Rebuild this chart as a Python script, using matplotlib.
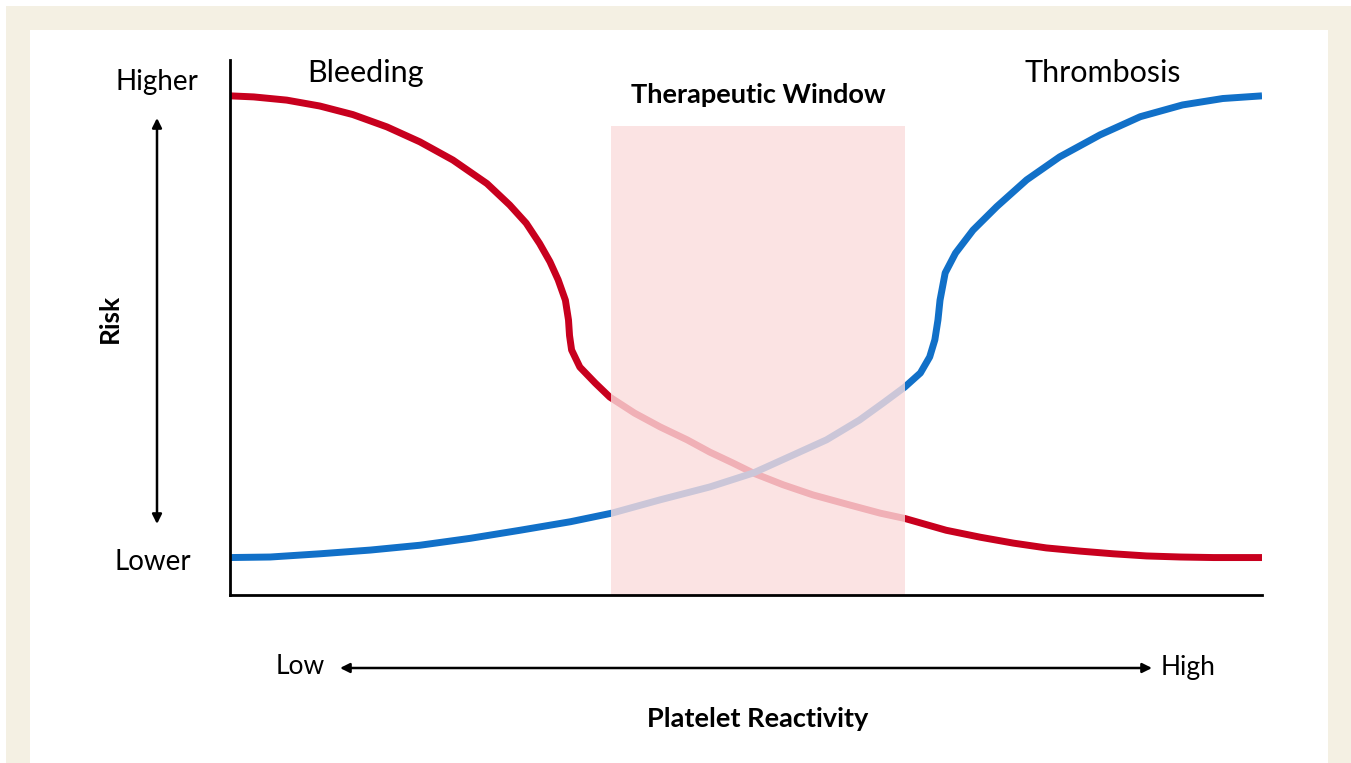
import matplotlib
matplotlib.use("Agg")
import matplotlib.pyplot as plt
from matplotlib.patches import Rectangle, FancyArrowPatch

# Curves (x: platelet reactivity 0-100, y: risk 0-100)
bleeding_x = [0, 2.3, 5.5, 8.7, 11.9, 15.2, 18.4, 21.6, 24.9, 27.1, 28.7, 30.0, 31.0, 31.8,
              32.5, 32.8, 32.9, 33.1, 33.9, 35.4, 36.8, 39.2, 41.7, 44.3, 46.5, 48.7, 50.7,
              53.6, 56.5, 60.1, 63.0, 65.4, 69.4, 72.7, 75.9, 79.1, 82.4, 85.6, 88.8, 92.1,
              95.3, 100]
bleeding_y = [93.3, 93.1, 92.5, 91.4, 89.8, 87.5, 84.7, 81.3, 76.9, 72.9, 69.5, 65.7, 62.3, 58.9,
              55.1, 51.4, 48.5, 45.8, 42.6, 39.6, 37.0, 34.0, 31.4, 29.0, 26.7, 24.7, 22.8,
              20.6, 18.7, 16.8, 15.3, 14.3, 12.1, 10.8, 9.7, 8.8, 8.2, 7.7, 7.3, 7.1,
              7.0, 7.0]

thrombosis_x = [0, 3.9, 8.7, 13.6, 18.4, 23.3, 28.1, 33.0, 37.0, 41.7, 46.5, 50.7, 54.6, 57.8,
                61.0, 63.3, 65.4, 66.9, 67.8, 68.3, 68.6, 68.8, 69.3, 70.3, 72.0, 74.3, 77.2,
                80.4, 84.3, 88.2, 92.3, 96.2, 100]
thrombosis_y = [7.0, 7.1, 7.7, 8.4, 9.3, 10.6, 12.1, 13.7, 15.3, 17.8, 20.2, 22.8, 26.2, 29.0,
                32.7, 35.9, 38.9, 41.5, 44.5, 47.7, 51.4, 55.1, 60.2, 63.9, 68.2, 72.6, 77.6,
                81.9, 86.0, 89.4, 91.6, 92.8, 93.3]

window_x = [36.9, 65.4]
window_top = 87.7

W, H = 1351, 763
plt.rcParams["font.family"] = ["Lato", "DejaVu Sans"]
fig = plt.figure(figsize=(W / 100, H / 100), dpi=100, facecolor="white")


def fx(x):
    return x / W


def fy(y):
    return 1 - y / H


# beige frame with white panel
fig.patches.append(Rectangle((fx(6), 0), 1, fy(6), transform=fig.transFigure,
                             facecolor="#f4f0e3", edgecolor="none", zorder=-5))
fig.patches.append(Rectangle((fx(30), 0), fx(1328) - fx(30), fy(30), transform=fig.transFigure,
                             facecolor="white", edgecolor="none", zorder=-4))

ax = fig.add_axes([fx(230), fy(595), fx(1262) - fx(230), fy(60) - fy(595)])
ax.set_zorder(2)
ax.set_facecolor("none")
ax.set_xlim(0, 100)
ax.set_ylim(0, 100)

ax.plot(bleeding_x, bleeding_y, color="#c8001e", lw=5, solid_capstyle="butt",
        solid_joinstyle="round", zorder=2)
ax.plot(thrombosis_x, thrombosis_y, color="#1170c8", lw=5, solid_capstyle="butt",
        solid_joinstyle="round", zorder=2)

ax.add_patch(Rectangle((window_x[0], 0), window_x[1] - window_x[0], window_top,
                       facecolor="#fbdddd", edgecolor="none", alpha=0.8, zorder=3))

for side in ["top", "right"]:
    ax.spines[side].set_visible(False)
for side in ["left", "bottom"]:
    ax.spines[side].set_linewidth(2)
    ax.spines[side].set_color("black")
    ax.spines[side].set_zorder(4)
ax.set_xticks([])
ax.set_yticks([])

fig.text(fx(157), fy(82), "Higher", fontsize=20, ha="center", va="center")
fig.text(fx(153), fy(562), "Lower", fontsize=20, ha="center", va="center")
fig.text(fx(366), fy(73), "Bleeding", fontsize=22, ha="center", va="center")
fig.text(fx(1103), fy(73), "Thrombosis", fontsize=22, ha="center", va="center")
fig.text(fx(758), fy(95), "Therapeutic Window", fontsize=19.5, fontweight="bold",
         ha="center", va="center")
fig.text(fx(110), fy(318), "Risk", fontsize=19, fontweight="bold", rotation=90,
         ha="center", va="center")
fig.text(fx(300), fy(666), "Low", fontsize=19, ha="center", va="center")
fig.text(fx(1188), fy(668), "High", fontsize=19, ha="center", va="center")
fig.text(fx(758), fy(719), "Platelet Reactivity", fontsize=19.5, fontweight="bold",
         ha="center", va="center")

arrow = dict(arrowstyle="<|-|>", color="black", lw=1.8, mutation_scale=14, shrinkA=0, shrinkB=0)
fig.add_artist(FancyArrowPatch((fx(157), fy(118)), (fx(157), fy(524)),
                               transform=fig.transFigure, **arrow))
fig.add_artist(FancyArrowPatch((fx(340), fy(668)), (fx(1152), fy(668)),
                               transform=fig.transFigure, **arrow))

fig.savefig("out.png", dpi=100, facecolor=fig.get_facecolor())
